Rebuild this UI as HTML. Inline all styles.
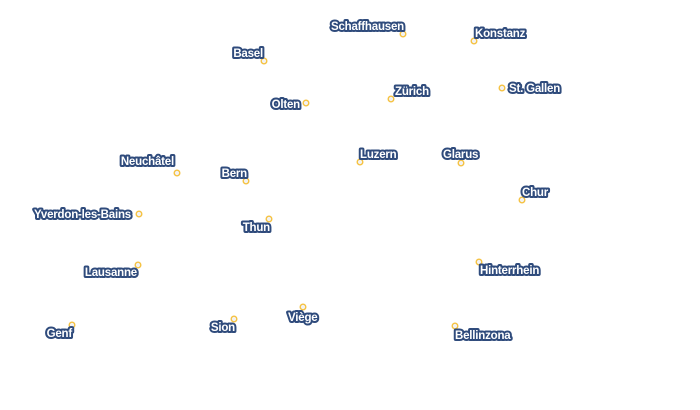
<!DOCTYPE html>
<html><head><meta charset="utf-8"><style>
html,body{margin:0;padding:0;background:#fff;width:700px;height:410px;overflow:hidden}
text{font-family:"Liberation Sans",Arial,sans-serif;font-weight:bold;font-size:11.5px;fill:#fff;stroke:#2f4b7c;stroke-width:4px;stroke-linejoin:round;paint-order:stroke;letter-spacing:-0.2px}
circle{fill:#f2f2f2;stroke:#f5c242;stroke-width:1.4}
</style></head><body>
<svg width="700" height="410" xmlns="http://www.w3.org/2000/svg">
<g>
<circle cx="403" cy="34" r="2.8"/><text x="404" y="30" text-anchor="end">Schaffhausen</text>
<circle cx="474" cy="41" r="2.8"/><text x="475" y="37">Konstanz</text>
<circle cx="264" cy="61" r="2.8"/><text x="263" y="57" text-anchor="end">Basel</text>
<circle cx="391" cy="99" r="2.8"/><text x="395" y="95">Zürich</text>
<circle cx="502" cy="88" r="2.8"/><text x="509" y="92">St. Gallen</text>
<circle cx="306" cy="103" r="2.8"/><text x="300" y="108" text-anchor="end">Olten</text>
<circle cx="360" cy="162" r="2.8"/><text x="360" y="158">Luzern</text>
<circle cx="461" cy="163" r="2.8"/><text x="443" y="158">Glarus</text>
<circle cx="177" cy="173" r="2.8"/><text x="174" y="165" text-anchor="end">Neuchâtel</text>
<circle cx="246" cy="181" r="2.8"/><text x="247" y="177" text-anchor="end">Bern</text>
<circle cx="522" cy="200" r="2.8"/><text x="522" y="196">Chur</text>
<circle cx="139" cy="214" r="2.8"/><text x="131" y="218" text-anchor="end">Yverdon-les-Bains</text>
<circle cx="269" cy="219" r="2.8"/><text x="270" y="231" text-anchor="end">Thun</text>
<circle cx="138" cy="265" r="2.8"/><text x="137" y="276" text-anchor="end">Lausanne</text>
<circle cx="479" cy="262" r="2.8"/><text x="480" y="274">Hinterrhein</text>
<circle cx="72" cy="325" r="2.8"/><text x="72" y="337" text-anchor="end">Genf</text>
<circle cx="234" cy="319" r="2.8"/><text x="235" y="331" text-anchor="end">Sion</text>
<circle cx="303" cy="307" r="2.8"/><text x="288" y="321">Viège</text>
<circle cx="455" cy="326" r="2.8"/><text x="455" y="339">Bellinzona</text>
</g>
</svg>
</body></html>
